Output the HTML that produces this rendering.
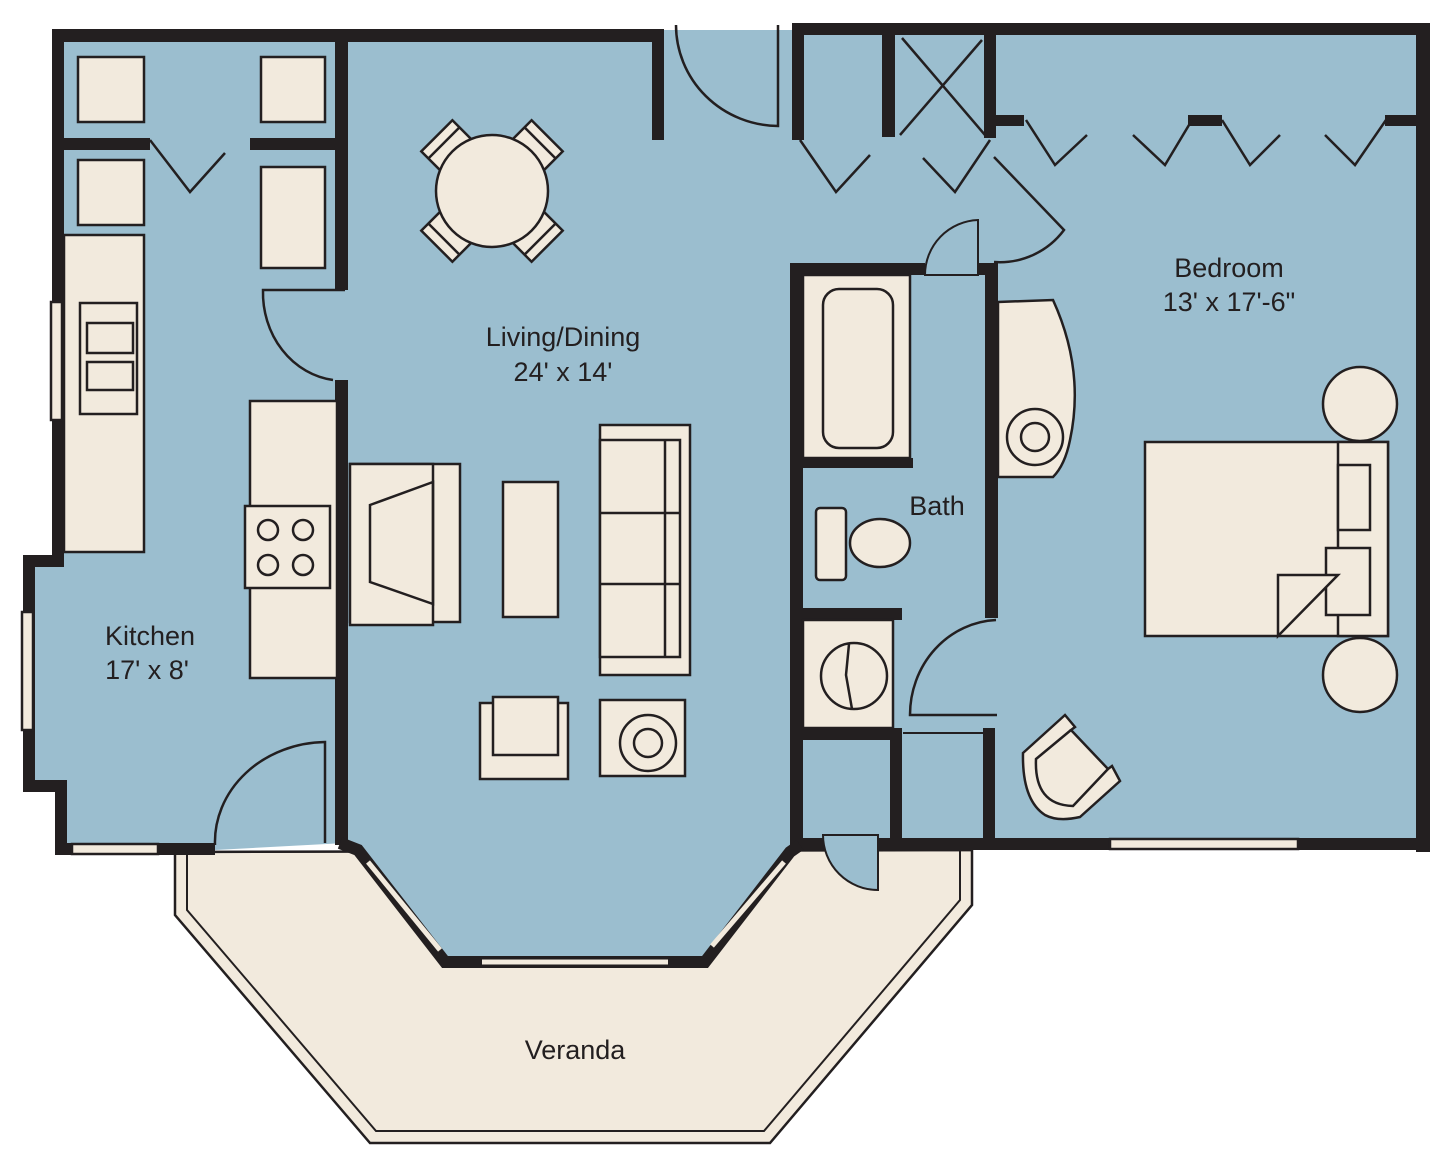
<!DOCTYPE html>
<html><head><style>html,body{margin:0;padding:0;background:#fff}svg{display:block}text{font-family:"Liberation Sans",sans-serif;font-size:27px;fill:#231f20;text-anchor:middle}</style></head>
<body>
<svg width="1453" height="1152" viewBox="0 0 1453 1152" xmlns="http://www.w3.org/2000/svg">
<defs><style>.c{fill:#f2eadd;stroke:#231f20;stroke-width:2.5}.l{fill:none;stroke:#231f20;stroke-width:2.5}.w{fill:#231f20}</style></defs>
<polygon points="175,852 175,915 370,1143 770,1143 972,905 972,850" fill="#f2eadd" stroke="#231f20" stroke-width="2.5"/>
<polygon points="187,852 187,910 376,1131 764,1131 960,900 960,850" fill="none" stroke="#231f20" stroke-width="2"/>
<polygon points="55,30 795,30 795,23 1428,23 1428,850 795,850 705,962 445,962 345,843 215,850 55,850 55,790 25,790 25,555 55,555" fill="#9bbecf"/>
<g class="w">
<rect x="52" y="29" width="612" height="13"/>
<rect x="52" y="29" width="12" height="528"/>
<rect x="23" y="555" width="41" height="12"/>
<rect x="23" y="555" width="12" height="237"/>
<rect x="23" y="780" width="44" height="12"/>
<rect x="55" y="780" width="12" height="75"/>
<rect x="55" y="843" width="160" height="12"/>
<rect x="64" y="138" width="86" height="12"/>
<rect x="250" y="138" width="92" height="12"/>
<rect x="335" y="42" width="13" height="248"/>
<rect x="335" y="380" width="13" height="465"/>
<rect x="652" y="29" width="12" height="111"/>
<rect x="792" y="23" width="638" height="12"/>
<rect x="792" y="23" width="12" height="117"/>
<rect x="882" y="35" width="13" height="102"/>
<rect x="984" y="35" width="12" height="103"/>
<rect x="996" y="115" width="28" height="11"/>
<rect x="1188" y="115" width="34" height="11"/>
<rect x="1385" y="115" width="33" height="11"/>
<rect x="1416" y="23" width="14" height="829"/>
<rect x="790" y="263" width="135" height="12"/>
<rect x="978" y="263" width="20" height="12"/>
<rect x="790" y="263" width="13" height="587"/>
<rect x="985" y="263" width="13" height="355"/>
<rect x="803" y="458" width="110" height="10"/>
<rect x="803" y="608" width="99" height="12"/>
<rect x="803" y="728" width="99" height="12"/>
<rect x="890" y="728" width="12" height="122"/>
<rect x="983" y="728" width="12" height="122"/>
<rect x="790" y="838" width="640" height="12"/>
</g>
<polyline points="340,843 358,850 445,962 705,962 790,852 800,845" fill="none" stroke="#231f20" stroke-width="12"/>
<rect x="51" y="302" width="11" height="118" class="c" stroke-width="1.5"/>
<rect x="22" y="612" width="11" height="118" class="c" stroke-width="1.5"/>
<rect x="72" y="844" width="86" height="10" class="c" stroke-width="1.5"/>
<rect x="1110" y="839" width="188" height="10" class="c" stroke-width="1.5"/>
<line x1="368" y1="862" x2="440" y2="950" stroke="#f2eadd" stroke-width="5"/>
<line x1="482" y1="962" x2="668" y2="962" stroke="#f2eadd" stroke-width="5"/>
<line x1="712" y1="946" x2="784" y2="862" stroke="#f2eadd" stroke-width="5"/>
<path class="l" d="M676,25 A103,101 0 0 0 778,126 L778,25"/>
<path class="l" d="M345,290 L263,290 A80,88 0 0 0 333,380"/>
<path class="l" d="M215,845 A112,100 0 0 1 325,742 L325,843"/>
<path class="l" d="M994,157 L1064,230 A80,80 0 0 1 994,262"/>
<path fill="#9bbecf" stroke="#231f20" stroke-width="2" d="M925,275 A55,55 0 0 1 978,220 L978,275 Z"/>
<path class="l" d="M996,620 A90,95 0 0 0 910,715 L997,715"/>
<line x1="903" y1="733" x2="983" y2="733" stroke="#231f20" stroke-width="2"/>
<path fill="#9bbecf" stroke="#231f20" stroke-width="2" d="M823,835 L878,835 L878,890 A55,55 0 0 1 823,835 Z"/>
<g class="l">
<polyline points="150,140 190,192 225,153"/>
<polyline points="800,140 836,192 870,155"/>
<polyline points="923,158 955,192 990,140"/>
<polyline points="1026,120 1055,165 1087,135"/>
<polyline points="1133,135 1165,165 1192,120"/>
<polyline points="1222,120 1250,165 1280,135"/>
<polyline points="1325,135 1355,165 1386,120"/>
<line x1="902" y1="38" x2="985" y2="135"/><line x1="900" y1="135" x2="982" y2="40"/>
</g>
<rect class="c" x="78" y="57" width="66" height="65"/>
<rect class="c" x="261" y="57" width="64" height="65"/>
<rect class="c" x="78" y="160" width="66" height="65"/>
<rect class="c" x="261" y="167" width="64" height="101"/>
<rect class="c" x="64" y="235" width="80" height="317"/>
<rect class="c" x="80" y="303" width="57" height="111"/>
<rect class="c" x="87" y="323" width="46" height="30"/>
<rect class="c" x="87" y="362" width="46" height="28"/>
<rect class="c" x="250" y="401" width="87" height="277"/>
<rect class="c" x="245" y="506" width="85" height="82"/>
<circle class="c" cx="268" cy="530" r="10"/><circle class="c" cx="303" cy="530" r="10"/>
<circle class="c" cx="268" cy="565" r="10"/><circle class="c" cx="303" cy="565" r="10"/>
<g transform="translate(492,191)">
<g transform="rotate(-45)"><rect class="c" x="-22" y="-78" width="44" height="28"/><line class="l" x1="-22" y1="-68" x2="22" y2="-68"/></g>
<g transform="rotate(45)"><rect class="c" x="-22" y="-78" width="44" height="28"/><line class="l" x1="-22" y1="-68" x2="22" y2="-68"/></g>
<g transform="rotate(135)"><rect class="c" x="-22" y="-78" width="44" height="28"/><line class="l" x1="-22" y1="-68" x2="22" y2="-68"/></g>
<g transform="rotate(225)"><rect class="c" x="-22" y="-78" width="44" height="28"/><line class="l" x1="-22" y1="-68" x2="22" y2="-68"/></g>
<circle class="c" r="56"/>
</g>
<rect class="c" x="350" y="464" width="110" height="158"/>
<rect class="c" x="350" y="464" width="83" height="161"/>
<polygon class="l" points="370,505 433,482 433,604 370,582"/>
<rect class="c" x="503" y="482" width="55" height="135"/>
<rect class="c" x="600" y="425" width="90" height="250"/>
<rect class="c" x="600" y="440" width="80" height="217"/>
<line class="l" x1="665" y1="440" x2="665" y2="657"/>
<line class="l" x1="600" y1="513" x2="680" y2="513"/>
<line class="l" x1="600" y1="584" x2="680" y2="584"/>
<rect class="c" x="480" y="703" width="88" height="76"/>
<rect class="c" x="493" y="697" width="65" height="58"/>
<rect class="c" x="600" y="700" width="85" height="76"/>
<circle class="c" cx="648" cy="743" r="28"/><circle class="c" cx="648" cy="743" r="14"/>
<rect class="c" x="803" y="275" width="107" height="183"/>
<rect class="c" x="823" y="289" width="70" height="159" rx="16"/>
<rect class="c" x="816" y="508" width="30" height="72" rx="4"/>
<ellipse class="c" cx="880" cy="543" rx="30" ry="24"/>
<rect class="c" x="803" y="620" width="90" height="108"/>
<circle class="c" cx="854" cy="676" r="33"/>
<polyline class="l" points="849,644 846,675 852,709"/>
<path class="c" d="M998,302 L1053,300 Q1085,370 1070,440 Q1065,465 1053,477 L998,477 Z"/>
<circle class="c" cx="1035" cy="437" r="28"/><circle class="c" cx="1035" cy="437" r="14"/>
<circle class="c" cx="1360" cy="404" r="37"/>
<circle class="c" cx="1360" cy="675" r="37"/>
<rect class="c" x="1145" y="442" width="243" height="194"/>
<rect class="c" x="1338" y="442" width="50" height="194"/>
<rect class="c" x="1338" y="465" width="32" height="65"/>
<rect class="c" x="1326" y="548" width="44" height="67"/>
<polygon class="c" points="1278,575 1338,575 1278,636"/>
<path class="c" d="M1023,753 L1065,715 L1075,727 L1071,730 L1108,769 L1112,766 L1120,781 L1080,817 Q1058,822 1045,815 Q1022,800 1023,753 Z"/>
<path class="l" d="M1071,730 L1036,759 Q1034,805 1073,806 L1108,769"/>
<text x="563" y="346">Living/Dining</text>
<text x="563" y="381">24' x 14'</text>
<text x="150" y="645">Kitchen</text>
<text x="147" y="679">17' x 8'</text>
<text x="937" y="515">Bath</text>
<text x="1229" y="277">Bedroom</text>
<text x="1229" y="311">13' x 17'-6"</text>
<text x="575" y="1059">Veranda</text>
</svg>
</body></html>
